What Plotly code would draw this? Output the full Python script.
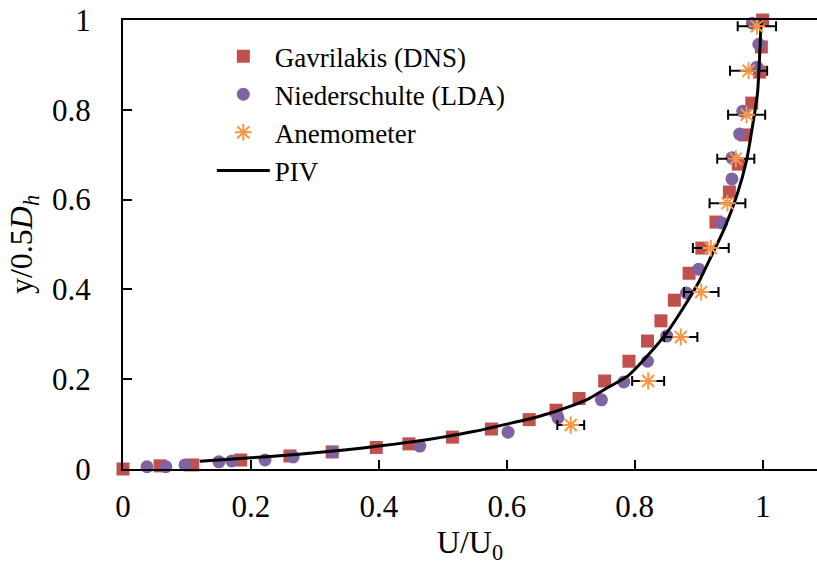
import plotly.graph_objects as go

# Gavrilakis (DNS)
dns_u = [0.0, 0.058, 0.109, 0.184, 0.261, 0.327, 0.396, 0.447, 0.515, 0.576, 0.635, 0.677, 0.713,
         0.753, 0.791, 0.820, 0.841, 0.862, 0.885, 0.905, 0.927, 0.948, 0.962, 0.972, 0.983, 0.995, 0.998, 1.0]
dns_y = [0.0, 0.007, 0.009, 0.020, 0.029, 0.038, 0.048, 0.056, 0.071, 0.089, 0.110, 0.131, 0.157,
         0.196, 0.240, 0.285, 0.330, 0.376, 0.436, 0.492, 0.550, 0.617, 0.679, 0.744, 0.815, 0.884, 0.940, 1.0]

# Niederschulte (LDA)
lda_u = [0.0375, 0.067, 0.097, 0.150, 0.170, 0.222, 0.266, 0.328, 0.464, 0.602, 0.680, 0.748, 0.783,
         0.820, 0.850, 0.881, 0.900, 0.936, 0.952, 0.952, 0.964, 0.969, 0.991, 0.994, 0.984]
lda_y = [0.005, 0.005, 0.009, 0.016, 0.018, 0.020, 0.027, 0.038, 0.051, 0.082, 0.114, 0.154, 0.194,
         0.240, 0.296, 0.392, 0.445, 0.548, 0.646, 0.693, 0.746, 0.797, 0.895, 0.946, 0.993]

# Anemometer
hw_u = [0.700, 0.821, 0.872, 0.904, 0.919, 0.945, 0.958, 0.975, 0.978, 0.991]
hw_y = [0.098, 0.196, 0.294, 0.394, 0.492, 0.592, 0.691, 0.789, 0.887, 0.986]
hw_err = [0.021, 0.025, 0.026, 0.027, 0.028, 0.028, 0.029, 0.029, 0.029, 0.030]

# PIV
piv_u = [0.12, 0.2, 0.25, 0.3, 0.35, 0.4, 0.45, 0.5, 0.55, 0.6, 0.65, 0.7, 0.73, 0.76, 0.79,
         0.82, 0.85, 0.88, 0.9, 0.92, 0.94, 0.96, 0.975, 0.984, 0.992, 0.995, 0.997, 0.998]
piv_y = [0.017, 0.025, 0.030, 0.036, 0.043, 0.051, 0.060, 0.071, 0.084, 0.100, 0.117, 0.140, 0.158, 0.183, 0.208,
         0.252, 0.303, 0.368, 0.416, 0.475, 0.535, 0.611, 0.688, 0.762, 0.837, 0.911, 0.978, 1.0]

tick_vals = [0, 0.2, 0.4, 0.6, 0.8, 1]
tick_text = ["0", "0.2", "0.4", "0.6", "0.8", "1"]

FONT = "Liberation Serif"

fig = go.Figure()
fig.add_trace(go.Scatter(x=dns_u, y=dns_y, mode="markers", name="Gavrilakis (DNS)",
                         marker=dict(symbol="square", size=13, color="#C0504D"),
                         cliponaxis=False, legendrank=1))
fig.add_trace(go.Scatter(x=lda_u, y=lda_y, mode="markers", name="Niederschulte (LDA)",
                         marker=dict(symbol="circle", size=13, color="#8064A2"),
                         cliponaxis=False, legendrank=2))
fig.add_trace(go.Scatter(x=piv_u, y=piv_y, mode="lines", name="PIV",
                         line=dict(color="black", width=3, shape="spline", smoothing=0.6),
                         cliponaxis=False, legendrank=4))
fig.add_trace(go.Scatter(x=hw_u, y=hw_y, mode="markers", name="Anemometer",
                         marker=dict(symbol="asterisk-open", size=14, color="#F79646",
                                     line=dict(color="#F79646", width=2)),
                         error_x=dict(type="data", array=hw_err, color="black", thickness=2, width=5),
                         cliponaxis=False, legendrank=3))

fig.update_layout(
    width=817, height=574,
    margin=dict(l=123, r=0, t=20, b=105),
    paper_bgcolor="white", plot_bgcolor="white",
    font=dict(family=FONT, size=32, color="black"),
    showlegend=True,
    legend=dict(x=0.128, y=0.973, xanchor="left", yanchor="top",
                font=dict(family=FONT, size=27, color="black"),
                bgcolor="rgba(0,0,0,0)", itemwidth=53),
    xaxis=dict(range=[0, 1.085], tickvals=tick_vals, ticktext=tick_text,
               tickfont=dict(family=FONT, size=31),
               ticks="inside", ticklen=9, tickwidth=2, tickcolor="black",
               showline=True, linecolor="black", linewidth=2, mirror=True,
               showgrid=False, zeroline=False, ticklabelstandoff=9,
               title=dict(text="U/U<sub>0</sub>", standoff=6,
                          font=dict(family=FONT, size=32))),
    yaxis=dict(range=[0, 1], tickvals=tick_vals, ticktext=tick_text,
               tickfont=dict(family=FONT, size=31),
               ticks="inside", ticklen=9, tickwidth=2, tickcolor="black",
               showline=True, linecolor="black", linewidth=2,
               showgrid=False, zeroline=False, ticklabelstandoff=24,
               title=dict(text="y/0.5<i>D</i><sub><i>h</i></sub>", standoff=10,
                          font=dict(family=FONT, size=32))),
)

fig.write_html("out.html")
